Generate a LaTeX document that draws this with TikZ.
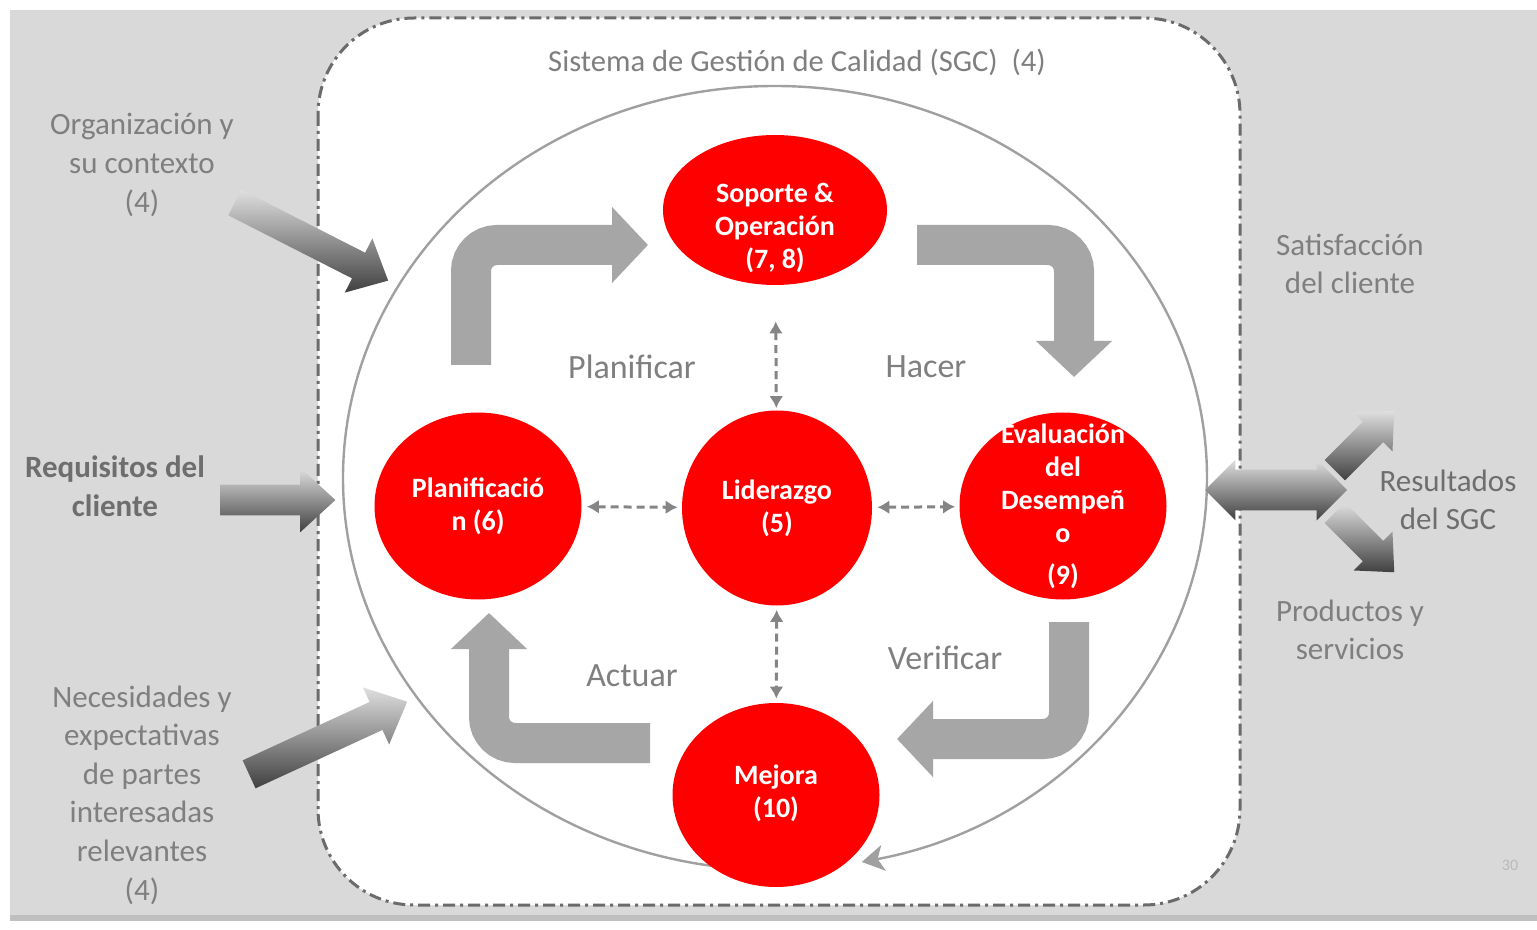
\documentclass[tikz,border=0pt]{standalone}
\usepackage{fontspec}
\setmainfont{Carlito}
\usetikzlibrary{shapes.geometric,shapes.arrows,arrows.meta}
\definecolor{bgc}{HTML}{D9D9D9}
\definecolor{barc}{HTML}{BFBFBF}
\definecolor{redc}{HTML}{FF0000}
\definecolor{cyc}{HTML}{A6A6A6}
\definecolor{lbl}{HTML}{7F7F7F}
\definecolor{lbld}{HTML}{6E6E6E}
\definecolor{bord}{HTML}{6B6B6B}
\definecolor{ellc}{HTML}{A0A0A0}
\definecolor{dsh}{HTML}{858585}
\begin{document}
\begin{tikzpicture}[x=0.5pt,y=-0.5pt,
  redn/.style={ellipse, fill=redc, inner sep=0pt},
  redt/.style={text=white, font=\bfseries\fontsize{14}{16.5}\selectfont, align=center, inner sep=0pt},
  side/.style={text=lbl, font=\fontsize{15.5}{19.3}\selectfont, align=center, inner sep=0pt},
  cyclbl/.style={text=lbl, font=\fontsize{17}{20}\selectfont, inner sep=0pt},
  cycarrow/.style={draw=cyc, line width=20pt, rounded corners=13pt, -{Triangle[width=37pt,length=18pt]}},
  dbl/.style={draw=dsh, line width=1.5pt, dash pattern=on 4pt off 2.5pt, {Latex[length=6pt,width=7pt]}-{Latex[length=6pt,width=7pt]}},
  arrthreed/.style={single arrow, inner xsep=0pt, draw=none, shading=axis, top color=gray!25, middle color=gray!70, bottom color=gray!50!black, single arrow tip angle=85},
  dblthreed/.style={double arrow, inner xsep=0pt, draw=none, shading=axis, top color=gray!25, middle color=gray!70, bottom color=gray!50!black, double arrow tip angle=90}
]
\useasboundingbox (0,0) rectangle (1537,930);
\fill[white] (0,0) rectangle (1537,930);
\fill[bgc] (10,10) rectangle (1537,915);
\fill[barc] (10,915) rectangle (1537,921);

% system box
\draw[bord, fill=white, line width=1.5pt, dash pattern=on 6pt off 2.5pt on 1.5pt off 2.5pt, rounded corners=48pt] (318,18) rectangle (1240,905);
\node[text=lbl, font=\fontsize{15.3}{18}\selectfont, inner sep=0pt] (title) at (797,62) {Sistema de Gestión de Calidad (SGC)\ \ (4)};

% big ellipse
\draw[ellc, line width=1.2pt, -{Stealth[length=11pt,width=13pt,inset=3pt]}] (775,870) arc[start angle=90, end angle=438.4, x radius=432, y radius=392];

% cycle arrows
\coordinate (c1a) at (471,365); \coordinate (c1b) at (648,245);
\coordinate (c2a) at (917,245); \coordinate (c2b) at (1074,377);
\coordinate (c3a) at (1069,622); \coordinate (c3b) at (897,739);
\coordinate (c4a) at (650,743); \coordinate (c4b) at (489,613);
\draw[cycarrow] (c1a) |- (c1b);
\draw[cycarrow] (c2a) -| (c2b);
\draw[cycarrow] (c3a) |- (c3b);
\draw[cycarrow] (c4a) -| (c4b);

% red nodes
\node[redn, minimum width=112pt, minimum height=75pt] (sop) at (775,210) {};
\node[redt] (sopt) at (775,228) {Soporte \&\\Operación\\(7, 8)};
\node[redn, minimum width=103.5pt, minimum height=93.5pt] (plan) at (478,506) {};
\node[redt] (plant) at (478,506) {Planificació\\n (6)};
\node[redn, minimum width=95pt, minimum height=97.5pt] (lid) at (777,508) {};
\node[redt] (lidt) at (777,508) {Liderazgo\\(5)};
\node[redn, minimum width=103.5pt, minimum height=93.5pt] (eva) at (1063,506) {};
\node[redt] (evat) at (1063,506) {Evaluación\\del\\Desempeñ\\o\\[4.5pt](9)};
\node[redn, minimum width=103.5pt, minimum height=92pt] (mej) at (776,795) {};
\node[redt] (mejt) at (776,793) {Mejora\\(10)};

% dashed double arrows
\draw[dbl, shorten <=18pt, shorten >=1pt] (sop) -- (lid);
\draw[dbl, shorten <=2pt, shorten >=2pt] (lid) -- (mej);
\draw[dbl, shorten <=2.5pt, shorten >=2pt] (plan) -- (lid);
\draw[dbl, shorten <=2.5pt, shorten >=2pt] (lid) -- (eva);

% cycle labels
\node[cyclbl] (lplan) at (632,367) {Planificar};
\node[cyclbl] (lhac) at (926,367) {Hacer};
\node[cyclbl] (lact) at (632,676) {Actuar};
\node[cyclbl] (lver) at (945,658) {Verificar};

% left labels
\node[side] (org) at (142,165) {Organización y\\su contexto\\(4)};
\node[side, text=lbld, font=\bfseries\fontsize{15.5}{19.3}\selectfont] (req) at (115,486) {Requisitos del\\cliente};
\node[side] (nec) at (142,795) {Necesidades y\\expectativas\\de partes\\interesadas\\relevantes\\(4)};

% right labels
\node[side] (sat) at (1350,264) {Satisfacción\\del cliente};
\node[side, text=lbld] (res) at (1448,500) {Resultados\\del SGC};
\node[side] (prod) at (1350,630) {Productos y\\servicios};
\node[text=gray!55, font=\fontsize{8}{9}\selectfont, inner sep=0pt] (pg) at (1510,865) {30};

% 3D arrows
\node[arrthreed, minimum height=86pt, inner ysep=7pt, minimum width=30pt, single arrow head extend=8pt, rotate=-27] (a1) at (304.5,238) {};
\node[arrthreed, minimum height=57.5pt, inner ysep=7.5pt, minimum width=32pt, single arrow head extend=8.5pt] (a2) at (269.5,500) {};
\node[arrthreed, minimum height=87pt, inner ysep=7.5pt, minimum width=31pt, single arrow head extend=8pt, rotate=24.7] (a3) at (320.5,741.5) {};
\node[dblthreed, minimum height=71pt, inner ysep=10pt, minimum width=30pt, double arrow head extend=5pt] (a4) at (1276,490) {};
\node[arrthreed, minimum height=42pt, inner ysep=7pt, minimum width=27pt, single arrow head extend=6.5pt, rotate=45] (a5) at (1359,446) {};
\node[arrthreed, minimum height=42pt, inner ysep=7pt, minimum width=27pt, single arrow head extend=6.5pt, rotate=-45] (a6) at (1359,537) {};
\end{tikzpicture}
\end{document}
